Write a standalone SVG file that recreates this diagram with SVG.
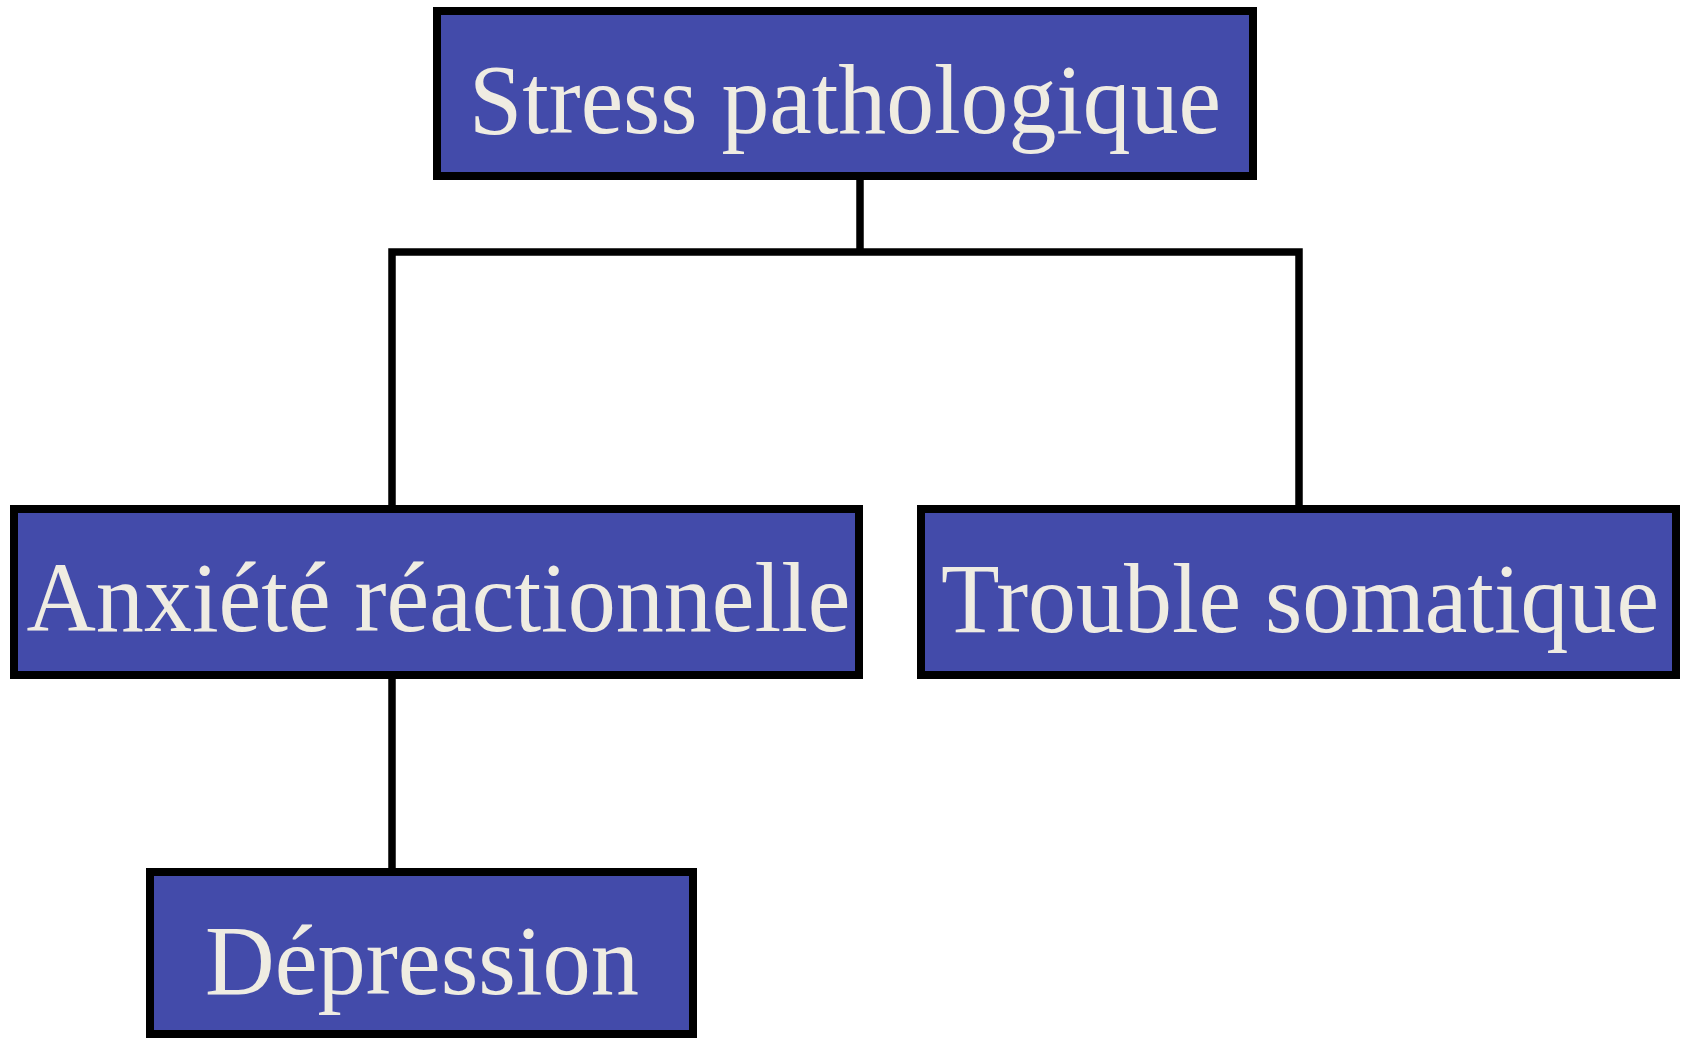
<svg xmlns="http://www.w3.org/2000/svg" width="1683" height="1039" viewBox="0 0 1683 1039">
<style>
.box{fill:#434BAA;stroke:#000;stroke-width:8}
.lbl{font-family:"Liberation Serif","Times New Roman",serif;font-size:100px;fill:#EFECE2;text-anchor:middle}
.con{fill:none;stroke:#000;stroke-width:7.5;stroke-linejoin:miter}
</style>
<rect width="1683" height="1039" fill="#fff"/>
<g id="connectors">
<path class="con" d="M392 508 V252 H1299 V508"/>
<path class="con" d="M860 178 V252"/>
<path class="con" d="M392 676 V871"/>
</g>
<g id="node-stress">
<rect class="box" x="437" y="11" width="816" height="165"/>
<text class="lbl" x="845" y="133" textLength="752" lengthAdjust="spacingAndGlyphs">Stress pathologique</text>
</g>
<g id="node-anxiete">
<rect class="box" x="14" y="509" width="845" height="166"/>
<text class="lbl" x="438.5" y="631" textLength="824" lengthAdjust="spacingAndGlyphs">Anxiété réactionnelle</text>
</g>
<g id="node-trouble">
<rect class="box" x="921" y="509" width="755" height="166"/>
<text class="lbl" x="1300" y="632" textLength="718" lengthAdjust="spacingAndGlyphs">Trouble somatique</text>
</g>
<g id="node-depression">
<rect class="box" x="150" y="872" width="543" height="162"/>
<text class="lbl" x="422" y="994" textLength="434" lengthAdjust="spacingAndGlyphs">Dépression</text>
</g>
</svg>
